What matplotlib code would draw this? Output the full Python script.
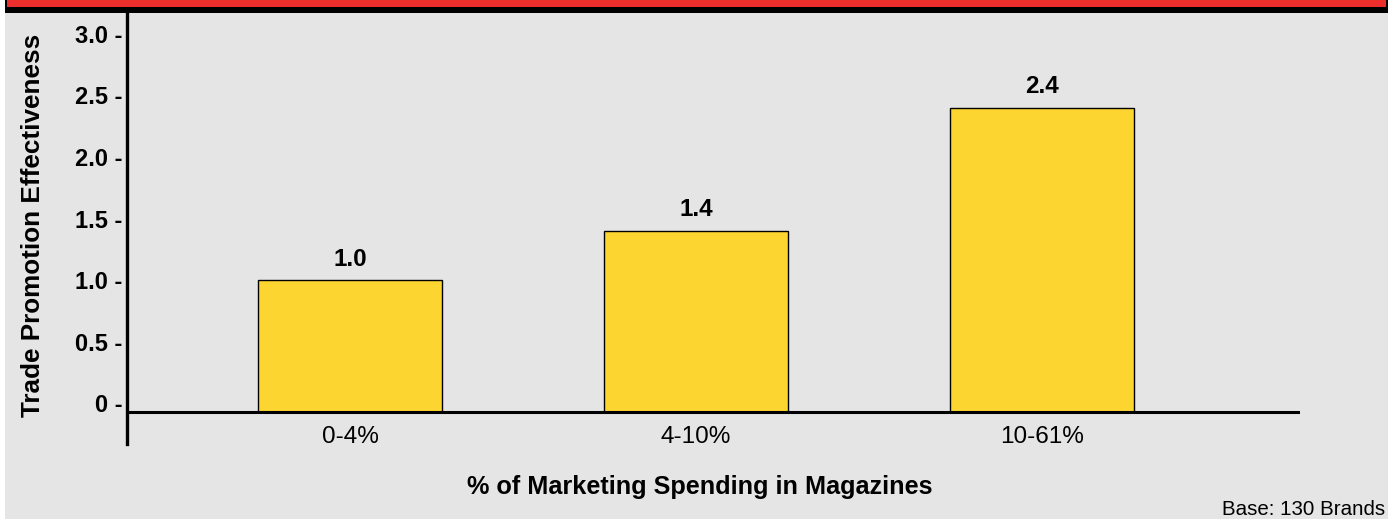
import matplotlib
matplotlib.use("Agg")
import matplotlib.pyplot as plt
from matplotlib.patches import Rectangle

plt.rcParams['font.family'] = ['Liberation Sans', 'DejaVu Sans']

categories = ["0-4%", "4-10%", "10-61%"]
effectiveness = [1.0, 1.4, 2.4]
yticks = [0, 0.5, 1.0, 1.5, 2.0, 2.5, 3.0]
ytick_labels = ["0 -", "0.5 -", "1.0 -", "1.5 -", "2.0 -", "2.5 -", "3.0 -"]

W, H = 1400, 519
fig = plt.figure(figsize=(W / 100, H / 100), dpi=100, facecolor="white")

# gray panel and red header strip
fig.add_artist(Rectangle((5 / W, 0), 1383 / W, 506 / H, transform=fig.transFigure,
                         facecolor="#e5e5e5", edgecolor="none", zorder=0))
fig.add_artist(Rectangle((5 / W, 506 / H), 1383 / W, 13 / H, transform=fig.transFigure,
                         facecolor="black", edgecolor="none", zorder=0))
fig.add_artist(Rectangle((7 / W, 512 / H), 1379 / W, 7 / H, transform=fig.transFigure,
                         facecolor="#ec2e2c", edgecolor="none", zorder=0))

ax = fig.add_axes([127 / W, 75 / H, 1173 / W, 431 / H])
ax.patch.set_visible(False)

base = -0.069
ax.set_xlim(-0.645, 2.747)
ax.set_ylim(-0.3285, 3.167)

x = range(len(categories))
ax.bar(x, [v - base for v in effectiveness], bottom=base, width=0.532,
       color="#fdd531", edgecolor="black", linewidth=1, zorder=2)
ax.axhline(base, color="black", linewidth=2.2, zorder=3)

for i, v in enumerate(effectiveness):
    ax.annotate(f"{v:.1f}", (i, v), xytext=(0, 10.5), textcoords="offset points",
                ha="center", va="baseline", fontsize=17.5, fontweight="bold")

for side in ["top", "right", "bottom"]:
    ax.spines[side].set_visible(False)
ax.spines["left"].set_linewidth(2.4)

ax.set_yticks(yticks)
ax.set_yticklabels(ytick_labels, fontsize=17, fontweight="bold")
ax.set_xticks(list(x))
ax.set_xticklabels(categories, fontsize=17.5)
ax.tick_params(axis="y", length=0, pad=3)
ax.tick_params(axis="x", length=0, pad=-13)

fig.text(700 / W, 25 / H, "% of Marketing Spending in Magazines", ha="center",
         va="baseline", fontsize=18.2, fontweight="bold")
fig.text(33 / W, 1 - 225 / H, "Trade Promotion Effectiveness", rotation=90,
         ha="center", va="center", fontsize=18.8, fontweight="bold")
fig.text(1385 / W, 4 / H, "Base: 130 Brands", ha="right", va="baseline", fontsize=14.8)

fig.savefig("out.png", dpi=100)
